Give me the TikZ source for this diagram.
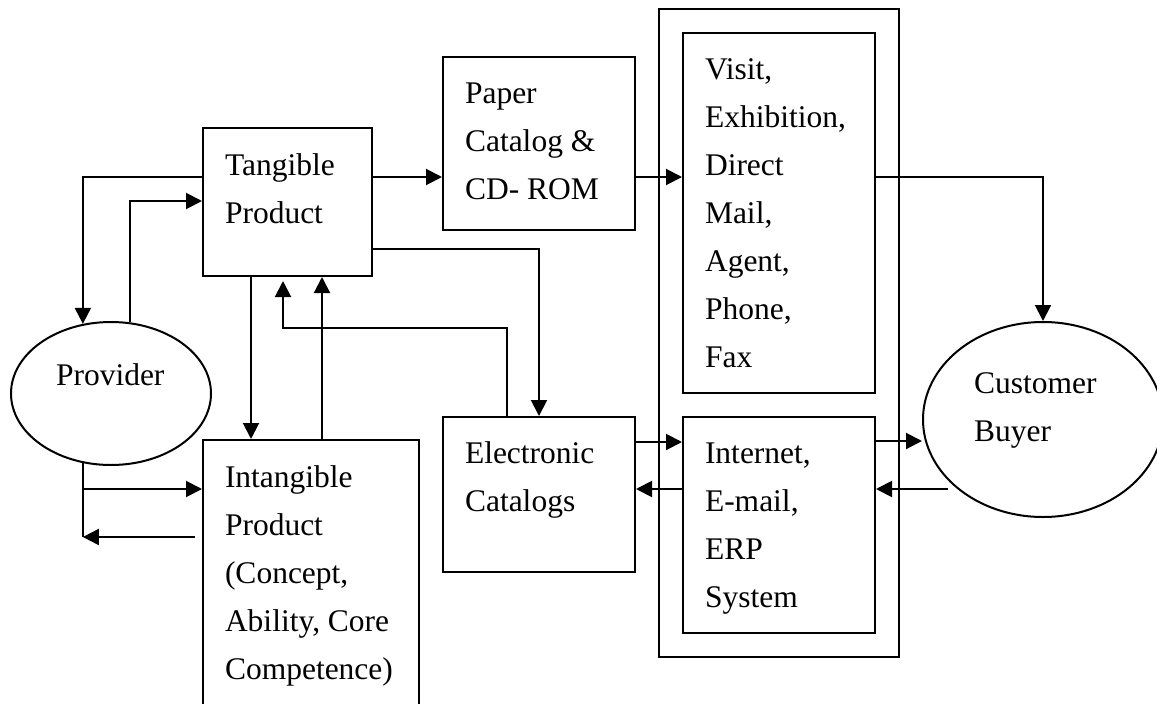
\documentclass[tikz,border=0pt]{standalone}
\usepackage{fontspec}
\setmainfont{Liberation Serif}
\usetikzlibrary{shapes.geometric,arrows.meta}
\newcommand{\mytext}[1]{\parbox[t]{300pt}{\raggedright #1}}
\tikzset{
  box/.style={draw, rectangle, inner sep=0pt},
  oval/.style={draw, ellipse, inner sep=0pt},
  txt/.style={anchor=base west, inner sep=0pt, font=\fontsize{31.5pt}{48pt}\selectfont},
  arr/.style={-{Triangle[length=16pt,width=16pt]}},
}
\begin{document}
\begin{tikzpicture}[x=1pt, y=-1pt, line width=2pt]
\useasboundingbox (0,0) rectangle (1157,704);
\clip (0,0) rectangle (1157,704);

% boxes
\node[box, minimum width=169pt, minimum height=148pt] (tang) at (287.5,202) {};
\node[box, minimum width=192pt, minimum height=173pt] (paper) at (539,143.5) {};
\node[box, minimum width=240pt, minimum height=648pt] (outer) at (779,333) {};
\node[box, minimum width=192pt, minimum height=360pt] (visit) at (779,213) {};
\node[box, minimum width=192pt, minimum height=216pt] (inet) at (779,525) {};
\node[box, minimum width=192pt, minimum height=155pt] (elec) at (539,494.5) {};
\node[box, minimum width=216pt, minimum height=290pt] (intang) at (311,585) {};
\node[oval, minimum width=200pt, minimum height=143pt] (prov) at (111,393.5) {};
\node[oval, minimum width=240pt, minimum height=195pt] (cust) at (1043,419.5) {};

% texts
\node[txt] (tangt) at (224,175) {\mytext{Tangible\\Product}};
\node[txt] (papert) at (464,103) {\mytext{Paper\\Catalog \&\\CD- ROM}};
\node[txt] (visitt) at (704,79) {\mytext{Visit,\\Exhibition,\\Direct\\Mail,\\Agent,\\Phone,\\Fax}};
\node[txt] (inett) at (704,463) {\mytext{Internet,\\E-mail,\\ERP\\System}};
\node[txt] (elect) at (464,463) {\mytext{Electronic\\Catalogs}};
\node[txt] (intangt) at (224,487) {\mytext{Intangible\\Product\\(Concept,\\Ability, Core\\Competence)}};
\node[txt] (provt) at (55,385) {\mytext{Provider}};
\node[txt] (custt) at (973,393) {\mytext{Customer\\Buyer}};

% free ends
\coordinate (cb) at (948,489);
\coordinate (ig) at (195,537);

% connectors
\draw[arr] (tang.west |- 0,177) -| (prov.112);
\draw[arr] (prov.75) |- (tang.west |- 0,201);
\draw[arr] (tang.south -| 251,0) -- (intang.north -| 251,0);
\draw[arr] (intang.north -| 322,0) -- (tang.south -| 322,0);
\draw[arr] (elec.north -| 507,0) |- (283,328) -- ([yshift=-4pt]tang.south -| 283,0);
\draw[arr] (tang.east |- 0,249) -| (elec.north -| 539,0);
\draw[arr] (tang.east |- 0,177) -- (paper.west |- 0,177);
\draw[arr] (paper.east |- 0,177) -- (visit.west |- 0,177);
\draw[arr] (visit.east |- 0,177) -| (cust.north);
\draw[arr] (elec.east |- 0,442) -- (inet.west |- 0,442);
\draw[arr] (inet.west |- 0,489) -- (elec.east |- 0,489);
\draw[arr] (inet.east |- 0,441) -- (cust.west |- 0,441);
\draw[arr] (cb) -- (inet.east |- 0,489);
\draw[arr] (prov.248) |- (intang.west |- 0,489);
\draw (prov.248 |- 0,489) -- (prov.248 |- 0,537);
\draw[arr] (ig) -- (prov.248 |- 0,537);
\end{tikzpicture}
\end{document}
